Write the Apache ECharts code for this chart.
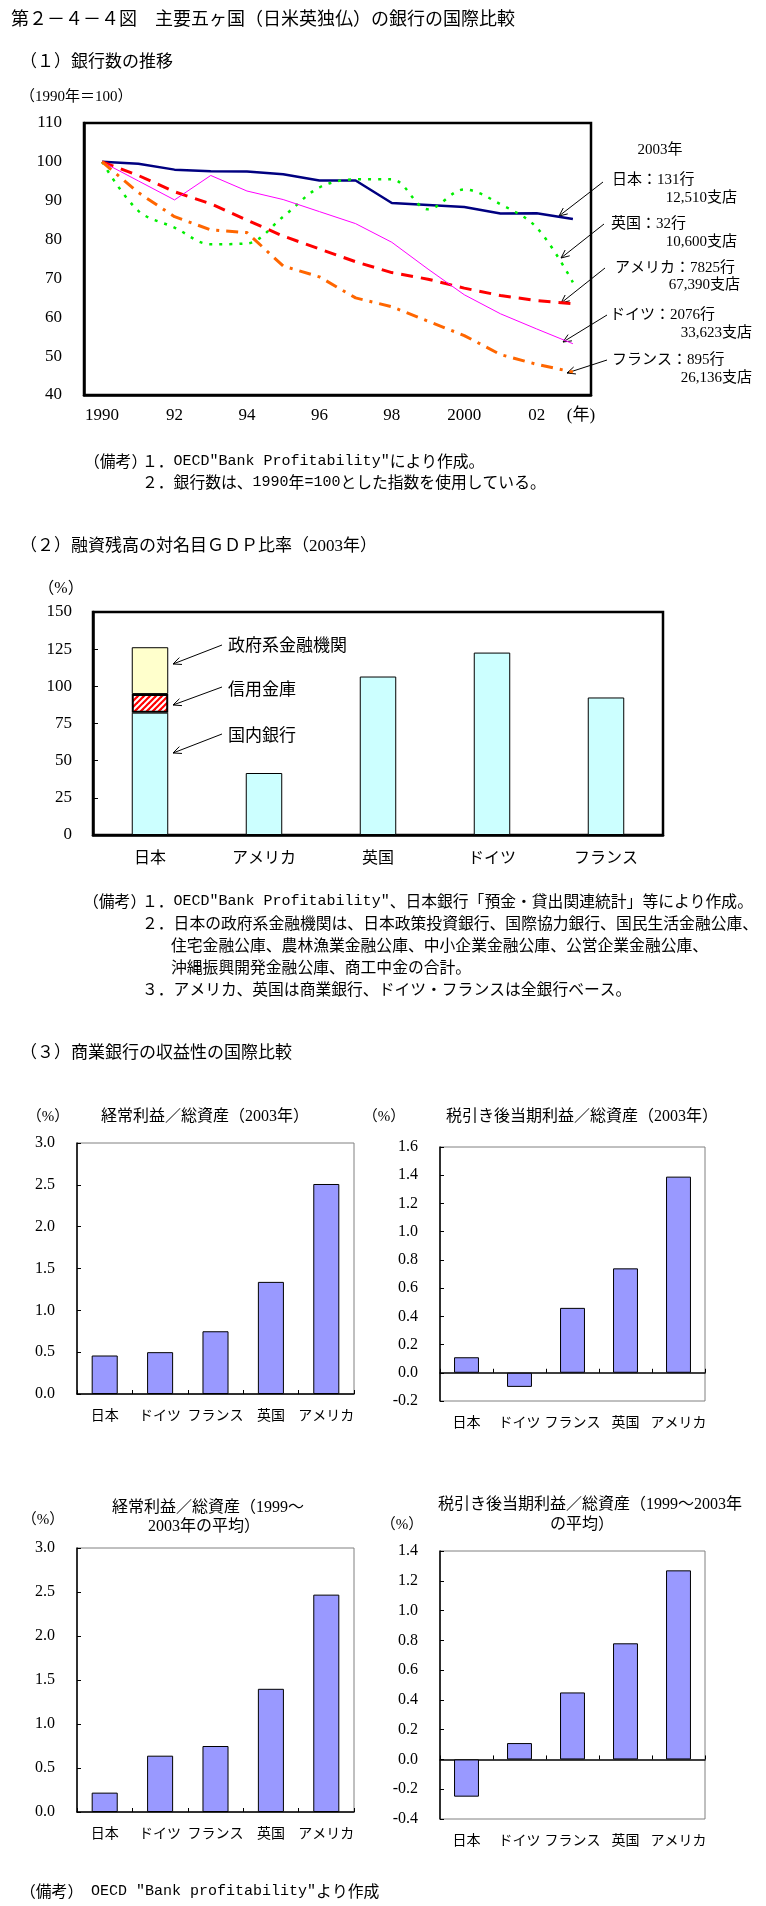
<!DOCTYPE html>
<html><head><meta charset="utf-8">
<script src="https://cdn.jsdelivr.net/npm/echarts@6/dist/echarts.min.js"></script>
<style>html,body{margin:0;padding:0;background:#fff}#c{width:766px;height:1906px}</style>
</head><body><div id="c"></div>
<script>
// ---------- DATA ----------
const years = ['1990','1991','1992','1993','1994','1995','1996','1997','1998','1999','2000','2001','2002','2003'];
const yearTickLabels = ['1990','','92','','94','','96','','98','','2000','','02','(年)'];
const japanIndex   = [100, 99.5, 98.0, 97.6, 97.5, 96.8, 95.2, 95.2, 89.4, 88.9, 88.4, 86.7, 86.8, 85.3];
const ukIndex      = [100, 87.4, 83.1, 78.8, 79.0, 85.9, 93.4, 95.5, 95.5, 87.8, 92.9, 89.1, 83.1, 69.0];
const usaIndex     = [100, 96.5, 92.3, 89.2, 85.0, 80.9, 77.6, 74.3, 71.5, 69.8, 67.5, 65.6, 64.3, 63.5];
const germanyIndex = [100, 95.1, 90.2, 96.5, 92.5, 90.3, 87.2, 84.1, 79.3, 72.4, 65.8, 60.9, 57.0, 53.2];
const franceIndex  = [100, 92.1, 85.9, 82.5, 81.8, 73.2, 70.4, 65.0, 62.7, 59.0, 55.3, 50.4, 47.9, 45.9];
const indexTicks = [40, 110, 10];

const loanCountries = ['日本','アメリカ','英国','ドイツ','フランス'];
const domesticBanks = [82.3, 41.7, 106.6, 122.7, 92.5];
const shinkinBanks  = [12.5, null, null, null, null];
const govFinance    = [31.5, null, null, null, null];

const profitCountries = ['日本','ドイツ','フランス','英国','アメリカ'];
const ordinaryProfit2003 = [0.46, 0.50, 0.75, 1.34, 2.51];
const netProfit2003      = [0.11, -0.10, 0.46, 0.74, 1.39];
const ordinaryProfitAvg  = [0.22, 0.64, 0.75, 1.40, 2.47];
const netProfitAvg       = [-0.25, 0.11, 0.45, 0.78, 1.27];

// ---------- STYLE / LAYOUT ----------
const SERIF = '"Liberation Serif","Noto Sans CJK JP"';
const JP = '"Noto Sans CJK JP"';
const MIX = '"Liberation Serif","Noto Sans CJK JP"';

const grids = [], xAxes = [], yAxes = [], series = [];

// (1) line chart
grids.push({left:84, top:123, width:507, height:272, show:true, borderColor:'#000', borderWidth:2.5});
xAxes.push({gridIndex:0, type:'category', data:years, boundaryGap:true,
  axisLine:{lineStyle:{color:'#000', width:2.5}},
  axisTick:{inside:true, length:4, interval:0, lineStyle:{color:'#000', width:1}},
  axisLabel:{interval:0, margin:12, fontFamily:SERIF, fontSize:17, color:'#000',
    formatter:(v,i)=> i===years.length-1 ? '{u|'+yearTickLabels[i]+'}' : yearTickLabels[i],
    rich:{u:{padding:[0,0,0,16], fontFamily:MIX, fontSize:17, color:'#000'}}},
  splitLine:{show:false}});
yAxes.push({gridIndex:0, type:'value', min:indexTicks[0], max:indexTicks[1], interval:indexTicks[2],
  axisLine:{show:true, lineStyle:{color:'#000', width:2.5}}, axisTick:{show:false}, splitLine:{show:false},
  axisLabel:{margin:22, fontFamily:SERIF, fontSize:17, color:'#000'}});
const lineDefs = [
  ['日本', japanIndex, {color:'#000080', width:2.5, type:'solid'}, false],
  ['英国', ukIndex, {color:'#00EE00', width:2.5, type:[3,7]}, 0.35],
  ['アメリカ', usaIndex, {color:'#FF0000', width:3, type:[12,8]}, false],
  ['ドイツ', germanyIndex, {color:'#FF00FF', width:1, type:'solid'}, false],
  ['フランス', franceIndex, {color:'#FF6600', width:3, type:[12,7,3,7]}, false]
];
lineDefs.forEach(d => series.push({type:'line', name:d[0], xAxisIndex:0, yAxisIndex:0, data:d[1],
  symbol:'none', smooth:d[3], lineStyle:d[2], itemStyle:{color:d[2].color}, silent:true}));

// (2) stacked bar chart
grids.push({left:93, top:612, width:570, height:223, show:true, borderColor:'#000', borderWidth:2.5});
xAxes.push({gridIndex:1, type:'category', data:loanCountries,
  axisLine:{lineStyle:{color:'#000', width:2.5}}, axisTick:{show:false},
  axisLabel:{margin:14, fontFamily:JP, fontSize:16, color:'#000'}});
yAxes.push({gridIndex:1, type:'value', min:0, max:150, interval:25,
  axisLine:{show:true, lineStyle:{color:'#000', width:2.5}},
  axisTick:{show:true, inside:true, length:5, lineStyle:{color:'#000'}}, splitLine:{show:false},
  axisLabel:{margin:21, fontFamily:SERIF, fontSize:17, color:'#000'}});

const pc = document.createElement('canvas'); pc.width = 6; pc.height = 6;
const g = pc.getContext('2d'); g.fillStyle = '#fff'; g.fillRect(0,0,6,6);
g.strokeStyle = '#FF0000'; g.lineWidth = 2.2;
[[-6,6,6,-6],[0,6,6,0],[0,12,12,0]].forEach(l=>{g.beginPath(); g.moveTo(l[0],l[1]); g.lineTo(l[2],l[3]); g.stroke();});
series.push({type:'bar', name:'国内銀行', xAxisIndex:1, yAxisIndex:1, stack:'loan', data:domesticBanks, barWidth:'32%',
  itemStyle:{color:'#CCFFFF', borderColor:'#000', borderWidth:1}, silent:true});
series.push({type:'bar', name:'信用金庫', xAxisIndex:1, yAxisIndex:1, stack:'loan', data:shinkinBanks, barWidth:'32%',
  itemStyle:{color:{image:pc, repeat:'repeat'}, borderColor:'#000', borderWidth:2}, silent:true});
series.push({type:'bar', name:'政府系金融機関', xAxisIndex:1, yAxisIndex:1, stack:'loan', data:govFinance, barWidth:'32%',
  itemStyle:{color:'#FFFFCC', borderColor:'#000', borderWidth:1}, silent:true});

// (3) four small bar charts
const smallDefs = [
  {box:[77,1143,277,251], min:0, max:3, step:0.5, values:ordinaryProfit2003},
  {box:[440,1147,265,254], min:-0.2, max:1.6, step:0.2, values:netProfit2003},
  {box:[77,1548,277,264], min:0, max:3, step:0.5, values:ordinaryProfitAvg},
  {box:[440,1551,265,268], min:-0.4, max:1.4, step:0.2, values:netProfitAvg}
];
smallDefs.forEach(d => {
  const gi = grids.length;
  grids.push({left:d.box[0], top:d.box[1], width:d.box[2], height:d.box[3], show:true, borderColor:'#808080', borderWidth:1});
  const neg = d.min < 0;
  const xi = xAxes.length;
  xAxes.push({gridIndex:gi, type:'category', data:profitCountries, position:'bottom',
    axisLine:{show:!neg, onZero:!neg, lineStyle:{color:'#000', width:1.5}},
    axisTick:{show:!neg, inside:true, length:4, interval:0, lineStyle:{color:'#000'}},
    axisLabel:{margin:14, fontFamily:JP, fontSize:14, color:'#000', interval:0}});
  if (neg) {
    xAxes.push({gridIndex:gi, type:'category', data:profitCountries, position:'bottom',
      axisLine:{show:true, onZero:true, lineStyle:{color:'#000', width:1.5}},
      axisTick:{show:true, inside:true, length:4, interval:0, lineStyle:{color:'#000'}},
      axisLabel:{show:false}});
  }
  const yi = yAxes.length;
  yAxes.push({gridIndex:gi, type:'value', min:d.min, max:d.max, interval:d.step,
    axisLine:{show:true, lineStyle:{color:'#000', width:1.5}},
    axisTick:{show:true, inside:true, length:4, lineStyle:{color:'#000'}}, splitLine:{show:false},
    axisLabel:{margin:22, fontFamily:SERIF, fontSize:16, color:'#000', formatter:v=>v.toFixed(1)}});
  series.push({type:'bar', xAxisIndex:xi, yAxisIndex:yi, data:d.values, barWidth:'47%',
    itemStyle:{color:'#9999FF', borderColor:'#000', borderWidth:1}, silent:true});
});

// ---------- annotations ----------
function T(text, x, y, size, align, fam){
  return {type:'text', silent:true, style:{text:text, x:x, y:y, fill:'#000', align:align||'left', verticalAlign:'middle',
    font: size+'px '+(fam||MIX)}};
}
// note lines: full-width text in CJK font, ASCII runs in a monospace font (as in the original)
function N(text, x, y){
  const rt = text.replace(/([\x20-\x7E]+)|([^\x20-\x7E]+)/g, (m, a, b) => a ? '{m|'+a+'}' : '{j|'+b+'}');
  return {type:'text', silent:true, style:{text:rt, x:x, y:y, fill:'#000', align:'left', verticalAlign:'middle',
    rich:{m:{fontFamily:'"Liberation Mono","DejaVu Sans Mono"', fontSize:15, fill:'#000', color:'#000'},
          j:{fontFamily:JP, fontSize:15.8, fill:'#000', color:'#000'}}}};
}
function arrow(x1,y1,x2,y2){
  const a = Math.atan2(y2-y1, x2-x1), L = 9, w = 0.42;
  const p1 = [x2 - L*Math.cos(a-w), y2 - L*Math.sin(a-w)];
  const p2 = [x2 - L*Math.cos(a+w), y2 - L*Math.sin(a+w)];
  return [
    {type:'line', silent:true, shape:{x1:x1,y1:y1,x2:x2,y2:y2}, style:{stroke:'#000', lineWidth:1}},
    {type:'polyline', silent:true, shape:{points:[p1,[x2,y2],p2]}, style:{stroke:'#000', lineWidth:1, fill:null}}
  ];
}
const graphics = [
  T('第２－４－４図　主要五ヶ国（日米英独仏）の銀行の国際比較', 11, 20, 18),
  T('（１）銀行数の推移', 20, 63, 17),
  T('（1990年＝100）', 20, 97, 15),
  T('2003年', 660, 150, 15, 'center'),
  T('日本：131行', 612, 180, 15),
  T('12,510支店', 737, 198, 15, 'right'),
  T('英国：32行', 611, 224, 15),
  T('10,600支店', 737, 242, 15, 'right'),
  T('アメリカ：7825行', 615, 268, 15),
  T('67,390支店', 740, 285, 15, 'right'),
  T('ドイツ：2076行', 610, 315, 15),
  T('33,623支店', 752, 333, 15, 'right'),
  T('フランス：895行', 612, 360, 15),
  T('26,136支店', 752, 378, 15, 'right'),
  N('（備考）', 84, 461),
  N('１．OECD"Bank Profitability"により作成。', 142, 461),
  N('２．銀行数は、1990年=100とした指数を使用している。', 142, 482),

  T('（２）融資残高の対名目ＧＤＰ比率（2003年）', 20, 547, 17),
  T('（%）', 61, 589, 16, 'center'),
  T('政府系金融機関', 228, 645, 17, 'left', JP),
  T('信用金庫', 228, 689, 17, 'left', JP),
  T('国内銀行', 228, 735, 17, 'left', JP),
  N('（備考）', 83, 901),
  N('１．OECD"Bank Profitability"、日本銀行「預金・貸出関連統計」等により作成。', 142, 901),
  N('２．日本の政府系金融機関は、日本政策投資銀行、国際協力銀行、国民生活金融公庫、', 142, 923),
  N('住宅金融公庫、農林漁業金融公庫、中小企業金融公庫、公営企業金融公庫、', 171, 945),
  N('沖縄振興開発金融公庫、商工中金の合計。', 171, 967),
  N('３．アメリカ、英国は商業銀行、ドイツ・フランスは全銀行ベース。', 142, 989),

  T('（３）商業銀行の収益性の国際比較', 20, 1054, 17),
  T('（%）', 48, 1117, 15, 'center'),
  T('経常利益／総資産（2003年）', 205, 1117, 16, 'center'),
  T('（%）', 384, 1117, 15, 'center'),
  T('税引き後当期利益／総資産（2003年）', 582, 1117, 16, 'center'),
  T('（%）', 43, 1520, 15, 'center'),
  T('経常利益／総資産（1999～', 208, 1508, 16, 'center'),
  T('2003年の平均）', 204, 1527, 16, 'center'),
  T('（%）', 402, 1525, 15, 'center'),
  T('税引き後当期利益／総資産（1999～2003年', 590, 1505, 16, 'center'),
  T('の平均）', 582, 1525, 16, 'center'),
  N('（備考）　OECD "Bank profitability"より作成', 20, 1891)
].concat(
  arrow(603,182,559,216), arrow(604,224,561,258), arrow(605,268,561,303),
  arrow(607,315,563,342), arrow(607,360,567,373),
  arrow(222,645,173,664), arrow(222,687,173,705), arrow(222,734,173,753)
);

const chart = echarts.init(document.getElementById('c'), null, {renderer:'canvas'});
chart.setOption({
  backgroundColor:'#fff', animation:false,
  grid:grids, xAxis:xAxes, yAxis:yAxes, series:series, graphic:graphics
});
</script></body></html>
